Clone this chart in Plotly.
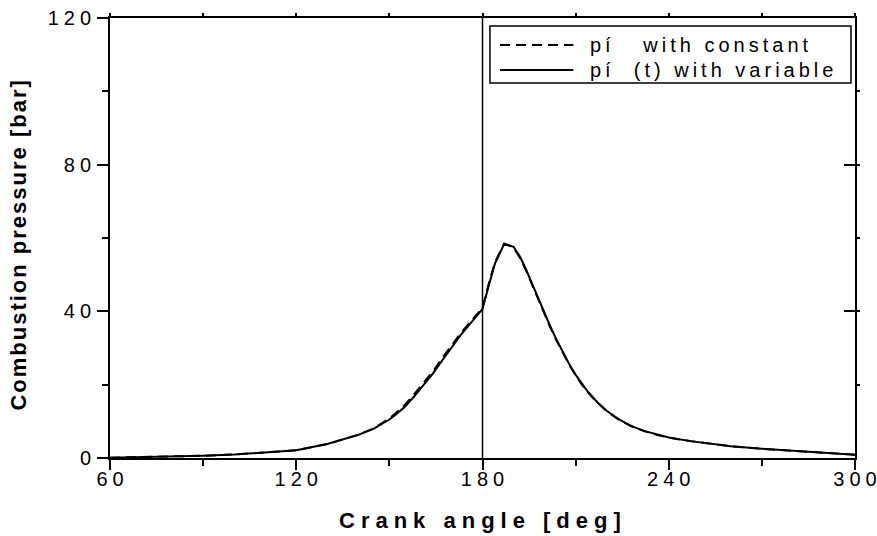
import plotly.graph_objects as go

# Crank angle [deg] and combustion pressure [bar]
crank_angle = [60, 70, 80, 90, 100, 110, 120, 130, 140, 145, 148, 150, 152, 155,
               158, 161, 164, 167, 170, 173, 176, 178, 180, 182, 184, 187, 190,
               192, 194, 196, 198, 200, 202, 204, 206, 208, 210, 212, 214, 217,
               220, 224, 228, 232, 236, 240, 247, 260, 270, 280, 290, 300]
p_variable = [0.1, 0.2, 0.35, 0.6, 0.95, 1.45, 2.1, 3.8, 6.3, 8.0, 9.4, 10.5,
              11.8, 14.0, 16.8, 19.8, 23.0, 26.6, 30.2, 33.6, 36.6, 38.5, 40.6,
              47.0, 53.0, 58.4, 57.6, 55.0, 51.5, 47.5, 43.4, 39.4, 35.6, 32.0,
              28.6, 25.5, 22.7, 20.2, 18.0, 15.2, 12.9, 10.5, 8.7, 7.4, 6.4, 5.6,
              4.6, 3.2, 2.5, 1.9, 1.4, 0.9]
p_constant = [0.1, 0.2, 0.35, 0.6, 0.95, 1.45, 2.1, 3.8, 6.35, 8.1, 9.6, 10.8,
              12.2, 14.5, 17.4, 20.4, 23.6, 27.2, 30.8, 34.1, 37.0, 38.9, 41.0,
              47.5, 53.4, 58.5, 57.4, 54.7, 51.2, 47.2, 43.1, 39.1, 35.3, 31.8,
              28.4, 25.3, 22.5, 20.0, 17.9, 15.1, 12.8, 10.4, 8.65, 7.35, 6.35,
              5.55, 4.6, 3.2, 2.5, 1.9, 1.4, 0.9]

x_ticks = [60, 120, 180, 240, 300]
y_ticks = [0, 40, 80, 120]
TDC = 180

legend_labels = ["pí   with constant", "pí  (t) with variable"]

FONT = "Liberation Sans, Arial, sans-serif"


def spaced(text, px):
    return f'<span style="letter-spacing:{px}px">{text}</span>'


def spaced_tick(text, px):
    # letter spacing between characters only, none after the last one
    return spaced(text[:-1], px) + text[-1]


fig = go.Figure()
fig.add_trace(go.Scatter(x=crank_angle, y=p_constant, mode="lines",
                         name=legend_labels[0],
                         line=dict(color="black", width=2, dash="10px,6px")))
fig.add_trace(go.Scatter(x=crank_angle, y=p_variable, mode="lines",
                         name=legend_labels[1],
                         line=dict(color="black", width=2)))

# top dead centre marker
fig.add_shape(type="line", x0=TDC, x1=TDC, y0=0, y1=120, xref="x", yref="y",
              line=dict(color="black", width=1.5))

axis_common = dict(showgrid=False, zeroline=False, showline=True,
                   linecolor="black", linewidth=2, tickcolor="black",
                   tickwidth=1.5, automargin=False)

fig.update_layout(
    width=877, height=536,
    margin=dict(l=110, r=22, t=18, b=78),
    paper_bgcolor="white", plot_bgcolor="white",
    showlegend=False,
    font=dict(family=FONT, color="black"),
    xaxis=dict(range=[60, 300], tickvals=x_ticks,
               ticktext=[spaced_tick(str(v), 5) for v in x_ticks],
               ticks="outside", ticklen=10, ticklabelstandoff=-8,
               ticklabeloverflow="allow",
               minor=dict(ticks="outside", ticklen=6, dtick=30,
                          tickcolor="black", tickwidth=1.5),
               tickfont=dict(size=20, family=FONT), **axis_common),
    yaxis=dict(range=[0, 120], tickvals=y_ticks,
               ticktext=[spaced_tick(str(v), 5) for v in y_ticks],
               ticks="outside", ticklen=11, ticklabeloverflow="allow",
               ticklabelstandoff=2,
               minor=dict(ticks="outside", ticklen=6, dtick=20,
                          tickcolor="black", tickwidth=1.5),
               tickfont=dict(size=20, family=FONT), **axis_common),
    xaxis2=dict(range=[60, 300], overlaying="x", side="top", dtick=30,
                ticks="outside", ticklen=3, showticklabels=False,
                **axis_common),
    yaxis2=dict(range=[0, 120], overlaying="y", side="right", dtick=40,
                ticks="inside", ticklen=11, showticklabels=False,
                minor=dict(ticks="outside", ticklen=3, dtick=20,
                           tickcolor="black", tickwidth=1.5),
                **axis_common),
)

# invisible trace so the top/right axes are drawn
fig.add_trace(go.Scatter(x=[60], y=[0], xaxis="x2", yaxis="y2", mode="lines",
                         hoverinfo="skip", showlegend=False,
                         line=dict(color="rgba(0,0,0,0)")))

# axis titles
fig.add_annotation(text=spaced("<b>Crank angle [deg]</b>", 6), xref="paper",
                   yref="paper", x=0.5, y=0, yshift=-62, showarrow=False,
                   xanchor="center", yanchor="middle",
                   font=dict(size=22, family=FONT))
fig.add_annotation(text=spaced("<b>Combustion pressure [bar]</b>", 2),
                   xref="paper", yref="paper", x=0, y=0.485, xshift=-91,
                   textangle=-90, showarrow=False, xanchor="center",
                   yanchor="middle", font=dict(size=22, family=FONT))

# legend box
fig.add_shape(type="rect", xref="paper", yref="paper", x0=0.510, x1=0.9946,
              y0=0.852, y1=0.982, line=dict(color="black", width=1.5),
              fillcolor="white", layer="above")
legend_rows = [0.9386, 0.8818]
legend_dash = ["10px,6px", "solid"]
for label, row, dash in zip(legend_labels, legend_rows, legend_dash):
    fig.add_shape(type="line", xref="paper", yref="paper", x0=0.5235, x1=0.622,
                  y0=row, y1=row, line=dict(color="black", width=2, dash=dash),
                  layer="above")
    fig.add_annotation(text=spaced(label, 4), xref="paper", yref="paper",
                       x=0.6416, y=row, showarrow=False, xanchor="left",
                       yanchor="middle", font=dict(size=20, family=FONT))

fig.write_html("out.html")
